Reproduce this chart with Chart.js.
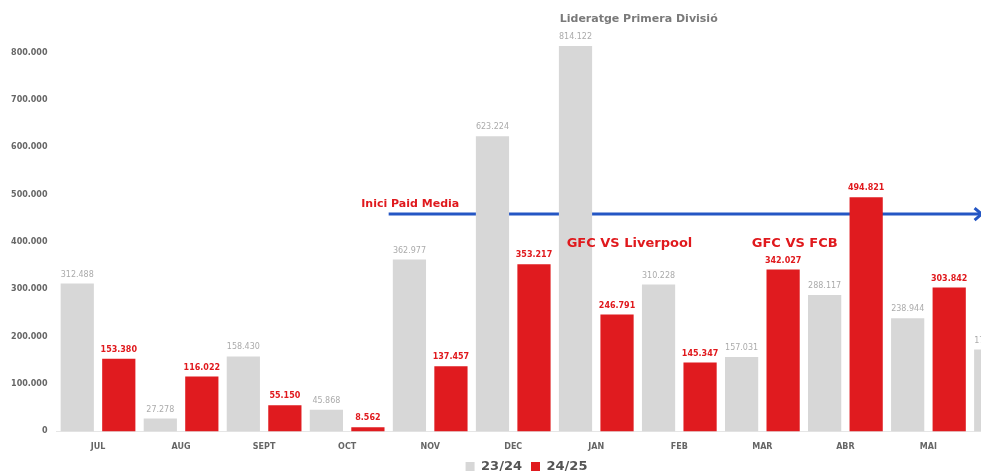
<!DOCTYPE html>
<html>
<head>
<meta charset="utf-8">
<script src="https://cdn.jsdelivr.net/npm/chart.js@4.4.1/dist/chart.umd.min.js"></script>
<style>
  html, body { margin: 0; padding: 0; background: #fff; overflow: hidden; }
  #wrap { width: 1060px; height: 483px; }
</style>
</head>
<body>
<div id="wrap"><canvas id="audienceChart"></canvas></div>
<script>
// Monthly values (JUN is cut off on the right)
const months = ['JUL', 'AUG', 'SEPT', 'OCT', 'NOV', 'DEC', 'JAN', 'FEB', 'MAR', 'ABR', 'MAI', 'JUN'];
const season2324 = [312488, 27278, 158430, 45868, 362977, 623224, 814122, 310228, 157031, 288117, 238944, 173000];
const season2425 = [153380, 116022, 55150, 8562, 137457, 353217, 246791, 145347, 342027, 494821, 303842, null];
const yTicks = [0, 100000, 200000, 300000, 400000, 500000, 600000, 700000, 800000];

// Paid media level line (value, from/to in category index units)
const paidMediaLevel = 459000;
const paidMediaFrom = 3.5;
const paidMediaTo = 10.64;

// Text notes: category index position and value height
const notes = [
    { text: 'Inici Paid Media', at: 3.17, value: 480000, color: '#e0191d', size: 11, align: 'left' },
    { text: 'GFC VS Liverpool', at: 6.4, value: 397000, color: '#e0191d', size: 13, align: 'center' },
    { text: 'GFC VS FCB', at: 8.39, value: 397000, color: '#e0191d', size: 13, align: 'center' },
    { text: 'Lideratge Primera Divisió', at: 5.56, value: 871000, color: '#7a7a7a', size: 11, align: 'left' }
];

const GREY = '#d7d7d7';
const RED = '#e01b1f';

function fmt(v) {
    return String(v).replace(/\B(?=(\d{3})+(?!\d))/g, '.');
}

function catPixel(x, idx) {
    // category index may be fractional
    const a = x.getPixelForValue(Math.floor(idx));
    const step = x.getPixelForValue(1) - x.getPixelForValue(0);
    return a + (idx - Math.floor(idx)) * step;
}

const paidMediaLine = {
    id: 'paidMediaLine',
    beforeDatasetsDraw(chart) {
        const { ctx, scales: { x, y } } = chart;
        const yy = y.getPixelForValue(paidMediaLevel);
        const x0 = catPixel(x, paidMediaFrom);
        const x1 = catPixel(x, paidMediaTo);
        ctx.save();
        ctx.strokeStyle = '#2456c4';
        ctx.lineWidth = 3;
        ctx.beginPath();
        ctx.moveTo(x0, yy);
        ctx.lineTo(x1 - 2, yy);
        ctx.stroke();
        ctx.beginPath();
        ctx.moveTo(x1 - 7, yy - 6);
        ctx.lineTo(x1, yy);
        ctx.lineTo(x1 - 7, yy + 6);
        ctx.stroke();
        ctx.restore();
    }
};

const valueLabels = {
    id: 'valueLabels',
    afterDatasetsDraw(chart) {
        const { ctx } = chart;
        ctx.save();
        ctx.textAlign = 'center';
        ctx.textBaseline = 'bottom';
        chart.data.datasets.forEach((ds, i) => {
            const meta = chart.getDatasetMeta(i);
            meta.data.forEach((bar, j) => {
                const v = ds.data[j];
                if (v == null) return;
                if (i === 0) {
                    ctx.font = '8px "DejaVu Sans"';
                    ctx.fillStyle = '#ababab';
                } else {
                    ctx.font = 'bold 8px "DejaVu Sans"';
                    ctx.fillStyle = '#e0191d';
                }
                ctx.fillText(fmt(v), bar.x, bar.y - 5);
            });
        });
        // notes
        const { x, y } = chart.scales;
        notes.forEach(n => {
            ctx.font = 'bold ' + n.size + 'px "DejaVu Sans"';
            ctx.fillStyle = n.color;
            ctx.textAlign = n.align;
            ctx.textBaseline = 'middle';
            ctx.fillText(n.text, catPixel(x, n.at), y.getPixelForValue(n.value));
        });
        ctx.restore();
    }
};

const ctx = document.getElementById('audienceChart').getContext('2d');
const audienceChart = new Chart(ctx, {
    type: 'bar',
    data: {
        labels: months,
        datasets: [
            { label: '23/24', data: season2324, backgroundColor: GREY },
            { label: '24/25', data: season2425, backgroundColor: RED }
        ]
    },
    options: {
        responsive: true,
        maintainAspectRatio: false,
        animation: false,
        layout: { padding: { top: 29, right: 7, left: 0, bottom: 0 } },
        datasets: { bar: { categoryPercentage: 1, barPercentage: 0.8 } },
        scales: {
            x: {
                grid: { display: false, drawTicks: false },
                border: { display: true, color: '#e6e6e6' },
                afterFit(scale) { scale.height = scale.height - 12; },
                ticks: { color: '#666', font: { family: 'DejaVu Sans', size: 8, weight: 'bold' }, padding: 11 }
            },
            y: {
                min: 0,
                max: 850000,
                grid: { display: false, drawTicks: false },
                border: { display: false },
                afterFit(scale) { scale.width = 56.5; },
                afterBuildTicks(scale) { scale.ticks = yTicks.map(v => ({ value: v })); },
                ticks: {
                    color: '#666',
                    font: { family: 'DejaVu Sans', size: 8, weight: 'bold' },
                    padding: 9,
                    callback: v => fmt(v)
                }
            }
        },
        plugins: {
            tooltip: { enabled: false },
            legend: {
                position: 'bottom',
                labels: {
                    boxWidth: 9,
                    boxHeight: 9,
                    padding: 9,
                    color: '#555',
                    font: { family: 'DejaVu Sans', size: 13, weight: 'bold' }
                }
            }
        }
    },
    plugins: [paidMediaLine, valueLabels]
});
</script>
</body>
</html>
